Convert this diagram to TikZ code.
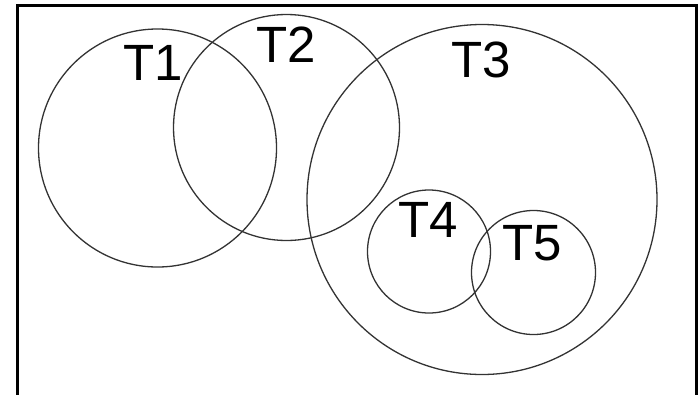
\documentclass[tikz,border=0pt]{standalone}
\usepackage{fontspec}
\setmainfont{Liberation Sans}
\begin{document}
\begin{tikzpicture}[x=1pt,y=-1pt,
  setcircle/.style={draw=black!80, line width=1.3pt, circle, inner sep=0pt},
  setlabel/.style={anchor=base, inner sep=0pt, font=\fontsize{51}{51}\selectfont},
  frame/.style={draw=black, line width=3pt}]
  \useasboundingbox (0,0) rectangle (700,394);
  \begin{scope}
    \clip (0,0) rectangle (700,394);
    \draw[frame] (17.5,5) rectangle (696.5,410);
  \end{scope}
  % the five sets
  \node[setcircle, minimum size=238pt] (c1) at (157.5,148) {};
  \node[setcircle, minimum size=226pt] (c2) at (286.5,127.5) {};
  \node[setcircle, minimum size=350pt] (c3) at (482,199.5) {};
  \node[setcircle, minimum size=123pt] (c4) at (429,251.5) {};
  \node[setcircle, minimum size=124pt] (c5) at (533.5,272.5) {};
  % their names
  \node[setlabel] (t1) at (153,80) {T1};
  \node[setlabel] (t2) at (286,62) {T2};
  \node[setlabel] (t3) at (481,77) {T3};
  \node[setlabel] (t4) at (428,237) {T4};
  \node[setlabel] (t5) at (532,260) {T5};
\end{tikzpicture}
\end{document}
